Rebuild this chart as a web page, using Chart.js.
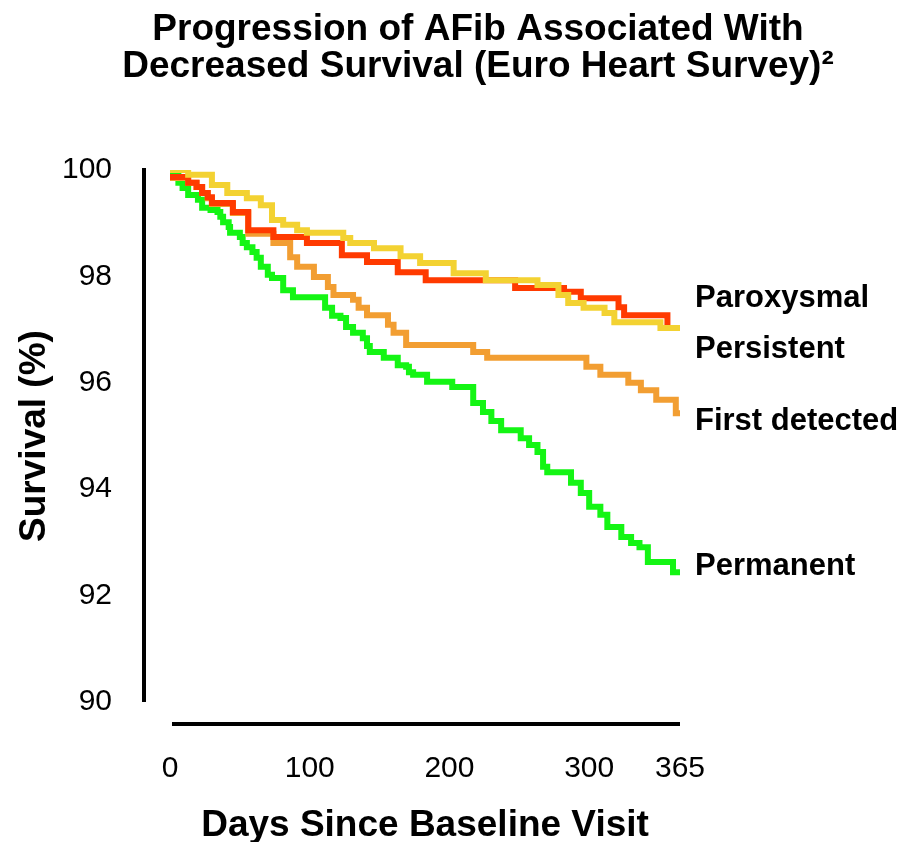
<!DOCTYPE html>
<html><head><meta charset="utf-8">
<script src="https://cdn.jsdelivr.net/npm/chart.js@4"></script>
<style>html,body{margin:0;padding:0;background:#fff}</style>
</head><body>
<canvas id="c" width="908" height="842"></canvas>
<script>
const FONT = "'Liberation Sans', Arial, Helvetica, sans-serif";
const titleLines = ['Progression of AFib Associated With', 'Decreased Survival (Euro Heart Survey)\u00B2'];
const xAxisTitle = 'Days Since Baseline Visit';
const yAxisTitle = 'Survival (%)';
const xTickValues = [0, 100, 200, 300, 365];
const yMin = 90, yMax = 100, yStep = 2;

const seriesNames = ['Persistent', 'Paroxysmal', 'First detected', 'Permanent'];
const seriesColors = ['#F3D232', '#FF3A00', '#F29E32', '#14F514'];

const persistentDays = [0, 13, 30, 41, 55, 65, 73, 81, 91, 98, 124, 129, 146, 165, 179, 203, 226, 263, 278, 285, 296, 311, 318, 351, 365];
const persistentVals = [100, 99.91, 99.72, 99.57, 99.47, 99.34, 99.06, 98.97, 98.87, 98.82, 98.72, 98.63, 98.53, 98.38, 98.25, 98.06, 97.93, 97.84, 97.65, 97.50, 97.41, 97.31, 97.14, 97.03, 97.03];

const paroxysmalDays = [0, 13, 19, 23, 27, 30, 45, 56, 74, 98, 123, 141, 163, 183, 247, 282, 294, 321, 325, 356, 365];
const paroxysmalVals = [99.87, 99.76, 99.68, 99.57, 99.49, 99.38, 99.21, 98.87, 98.74, 98.63, 98.40, 98.27, 98.08, 97.93, 97.78, 97.71, 97.59, 97.42, 97.27, 97.03, 97.03];

const firstDetectedDays = [0, 13, 19, 23, 27, 30, 45, 56, 74, 86, 91, 103, 113, 117, 131, 135, 141, 156, 160, 169, 217, 227, 298, 308, 328, 337, 348, 362, 365];
const firstDetectedVals = [99.85, 99.76, 99.68, 99.57, 99.47, 99.36, 99.19, 98.80, 98.63, 98.36, 98.18, 97.99, 97.80, 97.65, 97.56, 97.41, 97.27, 97.09, 96.94, 96.71, 96.58, 96.47, 96.30, 96.15, 96.00, 95.86, 95.68, 95.43, 95.43];

const permanentDays = [0, 6, 9, 13, 20, 23, 29, 34, 36, 38, 42, 43, 50, 52, 55, 59, 62, 65, 70, 73, 81, 88, 111, 116, 122, 126, 131, 138, 141, 143, 153, 163, 169, 171, 174, 184, 202, 217, 224, 230, 237, 251, 257, 263, 267, 270, 287, 294, 300, 308, 313, 323, 330, 336, 342, 360, 365];
const permanentVals = [99.91, 99.76, 99.66, 99.53, 99.44, 99.29, 99.25, 99.21, 99.12, 99.02, 98.93, 98.82, 98.74, 98.63, 98.55, 98.46, 98.35, 98.18, 98.03, 97.97, 97.74, 97.61, 97.41, 97.26, 97.22, 97.05, 96.94, 96.84, 96.69, 96.58, 96.47, 96.33, 96.30, 96.20, 96.15, 96.02, 95.92, 95.62, 95.45, 95.28, 95.11, 94.96, 94.83, 94.70, 94.42, 94.32, 94.12, 93.93, 93.67, 93.52, 93.29, 93.10, 92.99, 92.91, 92.63, 92.44, 92.44];

const endLabelNames = ['Paroxysmal', 'Persistent', 'First detected', 'Permanent'];
const endLabelValues = [97.59, 96.62, 95.28, 92.54];

const seriesDays = [persistentDays, paroxysmalDays, firstDetectedDays, permanentDays];
const seriesVals = [persistentVals, paroxysmalVals, firstDetectedVals, permanentVals];

const datasets = seriesNames.map((name, k) => ({
  label: name,
  data: seriesDays[k].map((d, i) => ({x: d, y: seriesVals[k][i]})),
  borderColor: seriesColors[k],
  backgroundColor: seriesColors[k],
  borderWidth: 6,
  pointRadius: 0,
  stepped: true,
  fill: false,
  yAxisID: 'y'
}));

const axisLines = {
  id: 'axisLines',
  afterDraw(chart) {
    const {ctx, scales: {x, y}} = chart;
    ctx.save();
    ctx.strokeStyle = '#000';
    ctx.lineWidth = 4;
    ctx.lineCap = 'butt';
    const vx = x.getPixelForValue(0) - 26;
    ctx.beginPath();
    ctx.moveTo(vx, y.getPixelForValue(yMax) - 2);
    ctx.lineTo(vx, y.getPixelForValue(yMin));
    ctx.stroke();
    const hy = y.getPixelForValue(yMin) + 22;
    ctx.beginPath();
    ctx.moveTo(x.getPixelForValue(0) + 2, hy);
    ctx.lineTo(x.getPixelForValue(xTickValues[xTickValues.length - 1]), hy);
    ctx.stroke();
    ctx.restore();
  }
};

new Chart(document.getElementById('c'), {
  type: 'line',
  data: {datasets},
  plugins: [axisLines],
  options: {
    responsive: false,
    animation: false,
    layout: {padding: {left: 48, right: 0, top: 0, bottom: 0}},
    plugins: {
      legend: {display: false},
      tooltip: {enabled: false},
      title: {
        display: true,
        text: titleLines,
        color: '#000',
        font: {family: FONT, size: 37, weight: 'bold', lineHeight: 0.98},
        padding: {top: 12, bottom: 85.5}
      }
    },
    scales: {
      x: {
        type: 'linear', min: 0, max: 365,
        afterBuildTicks: s => { s.ticks = xTickValues.map(v => ({value: v})); },
        afterFit: s => { s.height = 140; },
        grid: {display: false, drawTicks: false},
        border: {display: false},
        ticks: {color: '#000', font: {family: FONT, size: 30}, padding: 49, autoSkip: false, maxRotation: 0, callback: v => String(v)},
        title: {display: true, text: xAxisTitle, color: '#000', font: {family: FONT, size: 37, weight: 'bold'}, padding: {top: 0, bottom: -6}}
      },
      y: {
        type: 'linear', position: 'left', min: yMin, max: yMax,
        afterFit: s => { s.width = 122; },
        grid: {display: false, drawTicks: false},
        border: {display: false},
        ticks: {stepSize: yStep, color: '#000', font: {family: FONT, size: 30}, padding: 58},
        title: {display: true, text: yAxisTitle, color: '#000', font: {family: FONT, size: 37, weight: 'bold'}, padding: {top: -35, bottom: 0}}
      },
      yR: {
        type: 'linear', position: 'right', min: yMin, max: yMax,
        afterBuildTicks: s => { s.ticks = endLabelValues.map(v => ({value: v})); },
        afterFit: s => { s.width = 228; },
        grid: {display: false, drawTicks: false},
        border: {display: false},
        ticks: {color: '#000', font: {family: FONT, size: 31, weight: 'bold'}, padding: 15, autoSkip: false, callback: (v, i) => endLabelNames[i]}
      }
    }
  }
});
</script>
</body></html>
